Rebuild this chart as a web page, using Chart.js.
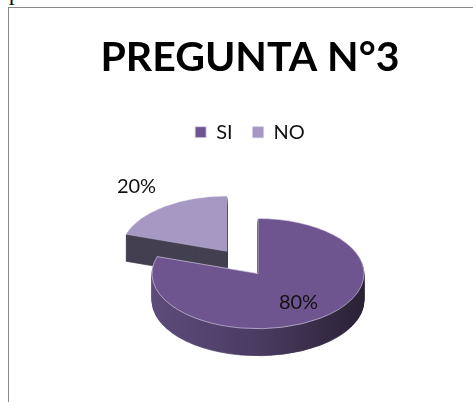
<!DOCTYPE html>
<html>
<head>
<meta charset="utf-8">
<script src="https://cdn.jsdelivr.net/npm/chart.js@4.4.1/dist/chart.umd.min.js"></script>
<style>
  html, body { margin: 0; padding: 0; background: #fff; overflow: hidden; }
  #frag { position: absolute; left: 9px; top: -20px; font: 22px "Liberation Serif", serif; color: #000; }
  #box { position: absolute; left: 8px; top: 7px; width: 470px; height: 400px;
         border-top: 1px solid #8a8a8a; border-left: 1px solid #8a8a8a; }
  #wrap { position: absolute; left: 0; top: 0; width: 465px; height: 395px; }
</style>
</head>
<body>
<div id="frag">pleno.</div>
<div id="box"><div id="wrap"><canvas id="grafico"></canvas></div></div>
<script>
const categorias = ['SI', 'NO'];
const porcentajes = [80, 20];
const etiquetas = ['80%', '20%'];

const coloresCara = ['#6f5590', '#a798c3'];
const coloresLado = ['#4b3c64', '#434050'];

// vista 3D: inclinacion, grosor, desplazamiento y separacion de porciones
const TILT = 0.52;
const DEPTH = 27;
const SHIFT_X = 8;
const EXPLODE = [0, 53];

function ladoBrush(ctx, arc, i) {
    if (i !== 0) return coloresLado[i];
    const r = arc.outerRadius;
    const g = ctx.createLinearGradient(arc.x - r, 0, arc.x + r, 0);
    g.addColorStop(0, '#5d4b7b');
    g.addColorStop(0.5, '#4a3b62');
    g.addColorStop(1, '#2a2134');
    return g;
}

function drawArc(ctx, arc, i, dy, fill) {
    const o = arc.options;
    const bg = o.backgroundColor, bc = o.borderColor;
    const mid = (arc.startAngle + arc.endAngle) / 2;
    if (fill) { o.backgroundColor = fill; o.borderColor = fill; }
    ctx.save();
    ctx.translate(Math.cos(mid) * EXPLODE[i], Math.sin(mid) * EXPLODE[i] + dy);
    arc.draw(ctx);
    ctx.restore();
    o.backgroundColor = bg;
    o.borderColor = bc;
}

const pie3d = {
    id: 'pie3d',
    beforeDatasetsDraw(chart) {
        const ctx = chart.ctx;
        const arcs = chart.getDatasetMeta(0).data;
        const cx = arcs[0].x, cy = arcs[0].y;
        ctx.save();
        ctx.translate(cx + SHIFT_X, cy);
        ctx.scale(1, TILT);
        ctx.translate(-cx, -cy);
        for (let d = DEPTH; d > 0; d--) {
            arcs.forEach((arc, i) => drawArc(ctx, arc, i, d / TILT, ladoBrush(ctx, arc, i)));
        }
        arcs.forEach((arc, i) => drawArc(ctx, arc, i, 0, null));
        ctx.restore();

        ctx.save();
        ctx.fillStyle = '#111';
        ctx.font = '20px Lato';
        ctx.textAlign = 'center';
        ctx.textBaseline = 'middle';
        arcs.forEach((arc, i) => {
            const mid = (arc.startAngle + arc.endAngle) / 2;
            const dist = i === 0 ? arc.outerRadius * 0.65 : EXPLODE[i] + arc.outerRadius * 1.45;
            const x = cx + SHIFT_X + Math.cos(mid) * dist;
            const y = cy + Math.sin(mid) * dist * TILT;
            ctx.fillText(etiquetas[i], x, y);
        });
        ctx.restore();
        return false;
    }
};

new Chart(document.getElementById('grafico'), {
    type: 'pie',
    data: {
        labels: categorias,
        datasets: [{
            data: porcentajes,
            backgroundColor: coloresCara,
            borderColor: ['rgba(220,215,235,0.8)', 'rgba(200,195,220,0.6)'],
            borderWidth: 1,
            hoverOffset: 0,
            clip: false
        }]
    },
    options: {
        responsive: true,
        maintainAspectRatio: false,
        animation: false,
        radius: 106,
        layout: { padding: { left: 24, right: 7, top: 0, bottom: 8 } },
        events: [],
        plugins: {
            title: {
                display: true,
                text: 'PREGUNTA N°3',
                color: '#000',
                font: { family: 'Lato', size: 41, weight: 'bold' },
                padding: { top: 25, bottom: 20 }
            },
            legend: {
                display: true,
                position: 'top',
                labels: {
                    color: '#111',
                    font: { family: 'Lato', size: 20 },
                    boxWidth: 11,
                    boxHeight: 11,
                    padding: 20
                }
            },
            tooltip: { enabled: false }
        }
    },
    plugins: [pie3d]
});
</script>
</body>
</html>
